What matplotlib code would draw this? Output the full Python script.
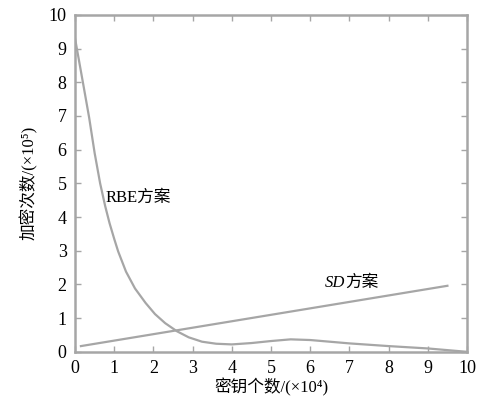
import matplotlib
matplotlib.use("Agg")
import matplotlib.pyplot as plt

plt.rcParams['font.family'] = ['Liberation Serif', 'Noto Sans CJK SC', 'DejaVu Sans']

# RBE scheme curve
rbe_x = [0, 0.2, 0.36, 0.5, 0.64, 0.77, 0.88, 1.0, 1.1, 1.3, 1.53, 1.8,
         2.04, 2.3, 2.6, 2.9, 3.24, 3.6, 4.0, 4.5, 5.0, 5.5, 6.0, 6.5,
         7.0, 8.0, 9.0, 10.0]
rbe_y = [9.3, 8.0, 6.95, 5.9, 5.0, 4.32, 3.82, 3.35, 2.98, 2.38, 1.88, 1.45,
         1.12, 0.85, 0.61, 0.43, 0.3, 0.24, 0.22, 0.26, 0.32, 0.37, 0.35, 0.3,
         0.25, 0.17, 0.1, 0.0]

# SD scheme line
sd_x = [0.15, 9.5]
sd_y = [0.17, 1.96]

xticks = list(range(0, 11))
yticks = list(range(0, 11))

gray = '#a6a6a6'

fig = plt.figure(figsize=(4.78, 4.03), dpi=100)
ax = fig.add_axes([0.157, 0.127, 0.820, 0.836])

ax.plot(rbe_x, rbe_y, color=gray, lw=1.6)
ax.plot(sd_x, sd_y, color=gray, lw=1.6)

ax.set_xlim(0, 10)
ax.set_ylim(0, 10)
ax.set_xticks(xticks)
ax.set_yticks(yticks)
ax.tick_params(direction='in', top=True, right=True, length=4, width=1,
               color=gray, labelsize=13, pad=6)
for s in ax.spines.values():
    s.set_color(gray)
    s.set_linewidth(1.8)

ax.text(0.77, 4.57, 'RBE方案', fontsize=12, va='center', ha='left')
t = ax.text(6.38, 2.05, 'SD', fontsize=12, style='italic', va='center', ha='left')
ax.annotate('方案', xy=(1, 0.5), xycoords=t, fontsize=12, va='center', ha='left')

ax.set_xlabel('密钥个数/(×10⁴)', fontsize=12, labelpad=1)
ax.set_ylabel('加密次数/(×10⁵)', fontsize=12, labelpad=8)

fig.savefig('out.png', dpi=100)
